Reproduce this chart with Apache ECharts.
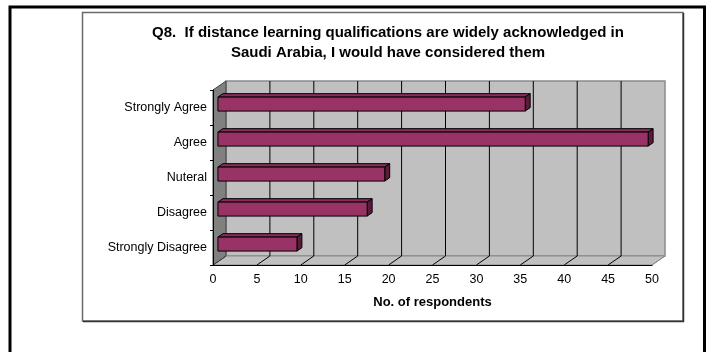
<!DOCTYPE html>
<html>
<head>
<meta charset="utf-8">
<title>Q8 distance learning qualifications</title>
<script src="https://cdn.jsdelivr.net/npm/echarts@6/dist/echarts.min.js"></script>
<style>
  html, body { margin: 0; padding: 0; background: #fff; }
  #chart { width: 710px; height: 352px; }
</style>
</head>
<body>
<div id="chart"></div>
<script>
// Survey answers, listed bottom-to-top as the category axis draws them
const categories = ['Strongly Disagree', 'Disagree', 'Nuteral', 'Agree', 'Strongly Agree'];
const respondents = [9, 17, 19, 49, 35];
const xTicks = [0, 5, 10, 15, 20, 25, 30, 35, 40, 45, 50];

// Pseudo-3D depth of the plot box (pixels, towards the back wall)
const DEPTH = { x: 13, y: -9 };
const BAR_FRONT = 0.38;   // bar front plane, as a fraction of the depth
const BAR_BACK = 0.76;    // bar back plane
const BAR_THICK = 0.4;    // bar height as a fraction of the category band

const FONT = '"Liberation Sans", Arial, sans-serif';

const chart = echarts.init(document.getElementById('chart'), null, { renderer: 'canvas' });

// Back wall, left wall, floor and gridlines, laid out from the grid's own rect
function renderWalls(params, api) {
  const cs = params.coordSys;
  const x0 = cs.x, x1 = cs.x + cs.width, y0 = cs.y, y1 = cs.y + cs.height;
  const dx = DEPTH.x, dy = DEPTH.y;
  const children = [];
  // back wall
  children.push({
    type: 'polygon',
    shape: { points: [[x0 + dx, y0 + dy], [x1 + dx, y0 + dy], [x1 + dx, y1 + dy], [x0 + dx, y1 + dy]] },
    style: { fill: '#c0c0c0', stroke: '#8a8a8a', lineWidth: 1.5 }
  });
  // floor
  children.push({
    type: 'polygon',
    shape: { points: [[x0, y1], [x1, y1], [x1 + dx, y1 + dy], [x0 + dx, y1 + dy]] },
    style: { fill: '#c0c0c0', stroke: '#8a8a8a', lineWidth: 1 }
  });
  // gridlines on the back wall and across the floor
  xTicks.forEach(function (t) {
    const cx = api.coord([t, 0])[0];
    if (t > xTicks[0] && t < xTicks[xTicks.length - 1]) {
      children.push({
        type: 'line',
        shape: { x1: cx + dx, y1: y0 + dy, x2: cx + dx, y2: y1 + dy },
        style: { stroke: '#000', lineWidth: 1 }
      });
    }
    children.push({
      type: 'line',
      shape: { x1: cx, y1: y1, x2: cx + dx, y2: y1 + dy },
      style: { stroke: t === xTicks[xTicks.length - 1] ? '#8a8a8a' : '#000', lineWidth: 1 }
    });
  });
  // left wall
  children.push({
    type: 'polygon',
    shape: { points: [[x0, y0], [x0 + dx, y0 + dy], [x0 + dx, y1 + dy], [x0, y1]] },
    style: { fill: '#808080', stroke: '#404040', lineWidth: 1 }
  });
  return { type: 'group', children: children };
}

// One extruded bar per answer
function renderBar(params, api) {
  const v = api.value(0);
  const i = api.value(1);
  const p0 = api.coord([0, i]);
  const p1 = api.coord([v, i]);
  const band = api.size([0, 1])[1];
  const h = band * BAR_THICK;
  const fx = DEPTH.x * BAR_FRONT, fy = DEPTH.y * BAR_FRONT;
  const ddx = DEPTH.x * (BAR_BACK - BAR_FRONT), ddy = DEPTH.y * (BAR_BACK - BAR_FRONT);
  const L = p0[0] + fx, R = p1[0] + fx;
  const T = p0[1] + fy - h / 2, B = p0[1] + fy + h / 2;
  const edge = { stroke: '#000', lineWidth: 1 };
  return {
    type: 'group',
    children: [
      {
        type: 'polygon',
        shape: { points: [[L, T], [R, T], [R + ddx, T + ddy], [L + ddx, T + ddy]] },
        style: Object.assign({ fill: '#8a2d5b' }, edge)
      },
      {
        type: 'polygon',
        shape: { points: [[R, T], [R + ddx, T + ddy], [R + ddx, B + ddy], [R, B]] },
        style: Object.assign({ fill: '#5a1c3b' }, edge)
      },
      {
        type: 'rect',
        shape: { x: L, y: T, width: R - L, height: h },
        style: Object.assign({ fill: '#993366' }, edge)
      }
    ]
  };
}

const option = {
  backgroundColor: '#ffffff',
  animation: false,
  title: {
    text: 'Q8.  If distance learning qualifications are widely acknowledged in\nSaudi Arabia, I would have considered them',
    left: 383,
    top: 18,
    textAlign: 'center',
    textStyle: { fontFamily: FONT, fontSize: 15, fontWeight: 'bold', color: '#000', lineHeight: 20 }
  },
  graphic: [
    {
      type: 'rect',
      shape: { x: 10, y: 7, width: 694.5, height: 400 },
      style: { fill: 'none', stroke: '#000', lineWidth: 3 },
      silent: true, z: 0
    },
    {
      type: 'rect',
      shape: { x: 82.5, y: 12.5, width: 600.5, height: 308.5 },
      style: { fill: 'none', stroke: '#6a6a6a', lineWidth: 1.5 },
      silent: true, z: 0
    },
    {
      type: 'polyline',
      shape: { points: [[683.5, 13], [683.5, 321.5], [83, 321.5]] },
      style: { fill: 'none', stroke: '#333', lineWidth: 1.5 },
      silent: true, z: 0
    }
  ],
  grid: { left: 213, right: 58, top: 90, bottom: 87, containLabel: false },
  xAxis: {
    type: 'value',
    min: 0,
    max: 50,
    interval: 5,
    z: 10,
    name: 'No. of respondents',
    nameLocation: 'middle',
    nameGap: 31,
    nameTextStyle: { fontFamily: FONT, fontSize: 13, fontWeight: 'bold', color: '#000' },
    axisLine: { show: true, lineStyle: { color: '#000', width: 1 } },
    axisTick: { show: false },
    splitLine: { show: false },
    axisLabel: { fontFamily: FONT, fontSize: 12.5, color: '#000', margin: 8 }
  },
  yAxis: {
    type: 'category',
    data: categories,
    z: 10,
    axisLine: { show: true, lineStyle: { color: '#000', width: 1 } },
    axisTick: { show: true, length: 3, lineStyle: { color: '#000' } },
    splitLine: { show: false },
    axisLabel: { fontFamily: FONT, fontSize: 12.5, color: '#000', margin: 6 }
  },
  series: [
    {
      type: 'custom',
      z: 1,
      silent: true,
      renderItem: renderWalls,
      encode: { x: 0, y: 1 },
      data: [[0, 0]]
    },
    {
      type: 'custom',
      z: 5,
      renderItem: renderBar,
      encode: { x: 0, y: 1 },
      data: categories.map(function (c, i) { return [respondents[i], i]; })
    }
  ]
};

chart.setOption(option);
</script>
</body>
</html>
